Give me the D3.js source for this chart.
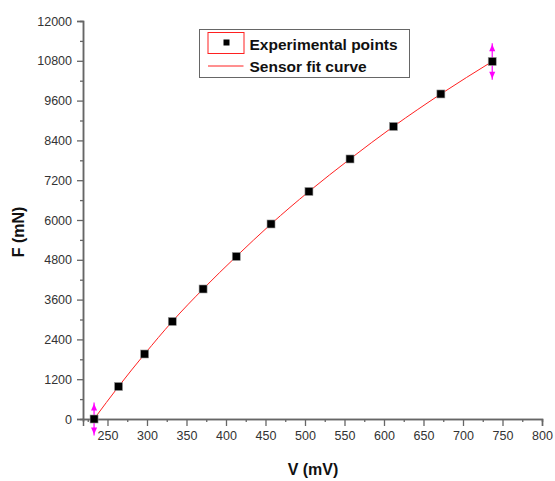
<!DOCTYPE html>
<html>
<head>
<meta charset="utf-8">
<script src="https://cdn.jsdelivr.net/npm/d3@7"></script>
<style>
  body { margin: 0; background: #fff; }
  text { font-family: "Liberation Sans", Arial, sans-serif; }
</style>
</head>
<body>
<div id="chart"></div>
<script>
// experimental points, V (mV) vs F (mN)
var voltage = [233, 264, 297, 332, 371, 413, 457, 505, 557, 612, 672, 737];
var force = [0, 980, 1960, 2940, 3920, 4900, 5880, 6860, 7840, 8820, 9800, 10780];
// error bars only on first and last point
var errIndex = [0, 11];
var errSize = [500, 550];

var xTicks = [250, 300, 350, 400, 450, 500, 550, 600, 650, 700, 750, 800];
var xMinor = [225, 275, 325, 375, 425, 475, 525, 575, 625, 675, 725, 775];
var yTicks = [0, 1200, 2400, 3600, 4800, 6000, 7200, 8400, 9600, 10800, 12000];
var yMinor = [600, 1800, 3000, 4200, 5400, 6600, 7800, 9000, 10200, 11400];

var legendLabels = ["Experimental points", "Sensor fit curve"];

var width = 555,
    height = 481;

var svg = d3.select("#chart")
    .append("svg")
    .attr("width", width)
    .attr("height", height);

var x = d3.scaleLinear().domain([219, 800]).range([83, 542]);
var y = d3.scaleLinear().domain([0, 12000]).range([419, 21]);

var axisColor = "#666";

function styleAxis(g) {
    g.select(".domain").attr("stroke", axisColor).attr("stroke-width", 1.5);
    g.selectAll(".tick line").attr("stroke", axisColor).attr("stroke-width", 1.3);
    g.selectAll(".tick text")
        .attr("fill", "#333")
        .style("font-size", "12.5px");
}

// minor ticks first, majors on top
svg.append("g")
    .attr("transform", "translate(0,419)")
    .call(d3.axisBottom(x).tickValues(xMinor).tickSize(3).tickFormat(""))
    .call(styleAxis);
svg.append("g")
    .attr("transform", "translate(83,0)")
    .call(d3.axisLeft(y).tickValues(yMinor).tickSize(3).tickFormat(""))
    .call(styleAxis);

svg.append("g")
    .attr("transform", "translate(0,419)")
    .call(d3.axisBottom(x).tickValues(xTicks).tickSize(7).tickPadding(5).tickFormat(d3.format("d")))
    .call(styleAxis);
svg.append("g")
    .attr("transform", "translate(83,0)")
    .call(d3.axisLeft(y).tickValues(yTicks).tickSize(6).tickPadding(5).tickFormat(d3.format("d")))
    .call(styleAxis);

// axis titles
svg.append("text")
    .attr("x", 313)
    .attr("y", 475)
    .attr("text-anchor", "middle")
    .style("font-size", "16px")
    .style("font-weight", "bold")
    .attr("fill", "#111")
    .text("V (mV)");

svg.append("text")
    .attr("transform", "translate(24,232) rotate(-90)")
    .attr("text-anchor", "middle")
    .style("font-size", "16px")
    .style("font-weight", "bold")
    .attr("fill", "#111")
    .text("F (mN)");

var points = voltage.map(function(v, i) { return {v: v, f: force[i]}; });

// fit curve
var line = d3.line()
    .x(function(d) { return x(d.v); })
    .y(function(d) { return y(d.f); })
    .curve(d3.curveMonotoneX);

svg.append("path")
    .datum(points)
    .attr("fill", "none")
    .attr("stroke", "#ff2020")
    .attr("stroke-width", 1)
    .attr("d", line);

// error bars with arrow heads
var errs = errIndex.map(function(i, k) { return {v: voltage[i], f: force[i], e: errSize[k]}; });
var eg = svg.selectAll(".err")
    .data(errs)
    .enter()
    .append("g")
    .attr("class", "err");

eg.append("line")
    .attr("x1", function(d) { return x(d.v); })
    .attr("x2", function(d) { return x(d.v); })
    .attr("y1", function(d) { return y(d.f + d.e); })
    .attr("y2", function(d) { return y(d.f - d.e); })
    .attr("stroke", "#ff00ff")
    .attr("stroke-width", 1.2);

eg.append("path")
    .attr("fill", "#ff00ff")
    .attr("d", function(d) {
        var cx = x(d.v), t = y(d.f + d.e) + 1;
        return "M" + cx + "," + t + "L" + (cx - 3) + "," + (t + 7) + "L" + (cx + 3) + "," + (t + 7) + "Z";
    });
eg.append("path")
    .attr("fill", "#ff00ff")
    .attr("d", function(d) {
        var cx = x(d.v), b = y(d.f - d.e) - 1;
        return "M" + cx + "," + b + "L" + (cx - 3) + "," + (b - 7) + "L" + (cx + 3) + "," + (b - 7) + "Z";
    });

// points
var sq = 8;
svg.selectAll(".pt")
    .data(points)
    .enter()
    .append("rect")
    .attr("class", "pt")
    .attr("x", function(d) { return x(d.v) - sq / 2; })
    .attr("y", function(d) { return y(d.f) - sq / 2; })
    .attr("width", sq)
    .attr("height", sq)
    .attr("fill", "#000")
    .attr("stroke", "#999")
    .attr("stroke-width", 0.6);

// legend
var lg = svg.append("g").attr("transform", "translate(199.5,29.5)");
lg.append("rect")
    .attr("width", 210)
    .attr("height", 48)
    .attr("fill", "#fff")
    .attr("stroke", "#666")
    .attr("stroke-width", 1);
lg.append("rect")
    .attr("x", 8.5)
    .attr("y", 3)
    .attr("width", 36)
    .attr("height", 21)
    .attr("fill", "none")
    .attr("stroke", "#ff2020")
    .attr("stroke-width", 1);
lg.append("rect")
    .attr("x", 24)
    .attr("y", 10)
    .attr("width", 6)
    .attr("height", 6)
    .attr("fill", "#000");
lg.append("line")
    .attr("x1", 8.5)
    .attr("x2", 44)
    .attr("y1", 36.5)
    .attr("y2", 36.5)
    .attr("stroke", "#ff2020")
    .attr("stroke-width", 1);

lg.selectAll(".ltext")
    .data(legendLabels)
    .enter()
    .append("text")
    .attr("class", "ltext")
    .attr("x", 50)
    .attr("y", function(d, i) { return 20 + i * 22; })
    .style("font-size", "15.5px")
    .style("font-weight", "bold")
    .attr("fill", "#111")
    .text(function(d) { return d; });
</script>
</body>
</html>
